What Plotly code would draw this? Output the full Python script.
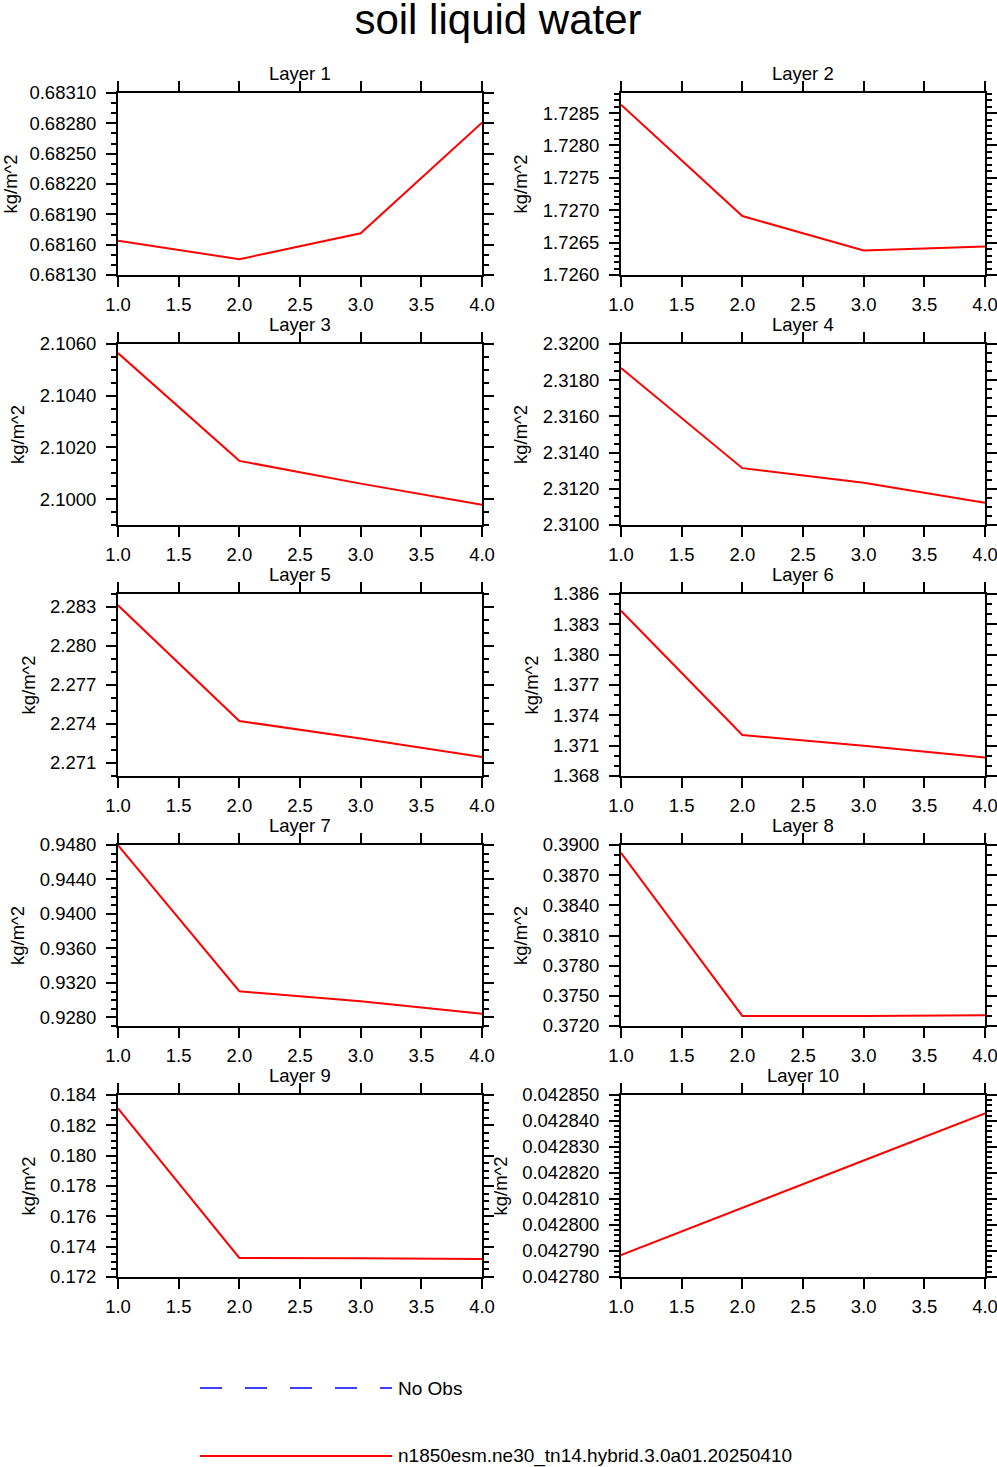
import plotly.graph_objects as go

# ---------------- data ----------------
x_vals = [1, 2, 3, 4]
layer_names = ["Layer 1", "Layer 2", "Layer 3", "Layer 4", "Layer 5",
               "Layer 6", "Layer 7", "Layer 8", "Layer 9", "Layer 10"]
layer1 = [0.681640, 0.681456, 0.681712, 0.682807]
layer2 = [1.72863, 1.72691, 1.72638, 1.72644]
layer3 = [2.10565, 2.10148, 2.10060, 2.09978]
layer4 = [2.31867, 2.31314, 2.31234, 2.31123]
layer5 = [2.28313, 2.27423, 2.27288, 2.27146]
layer6 = [1.38434, 1.37206, 1.37099, 1.36982]
layer7 = [0.94797, 0.93103, 0.92986, 0.92843]
layer8 = [0.38923, 0.37300, 0.37300, 0.37307]
layer9 = [0.18312, 0.17326, 0.17324, 0.17318]
layer10 = [0.0427884, 0.0428067, 0.0428248, 0.0428429]
series = [layer1, layer2, layer3, layer4, layer5,
          layer6, layer7, layer8, layer9, layer10]

x_tick_labels = ["1.0", "1.5", "2.0", "2.5", "3.0", "3.5", "4.0"]
x_tick_vals = [1.0, 1.5, 2.0, 2.5, 3.0, 3.5, 4.0]
y_title = "kg/m^2"
main_title = "soil liquid water"
legend_labels = ["No Obs", "n1850esm.ne30_tn14.hybrid.3.0a01.20250410"]

# y-axis settings
y_min = [0.68130, 1.7260, 2.0990, 2.3100, 2.2700, 1.368, 0.9270, 0.3720, 0.172, 0.042780]
y_max = [0.68310, 1.72881, 2.1060, 2.3200, 2.2840, 1.386, 0.9480, 0.3900, 0.184, 0.042850]
y_tick0 = [0.68130, 1.7260, 2.1000, 2.3100, 2.271, 1.368, 0.9280, 0.3720, 0.172, 0.042780]
y_dtick = [0.0003, 0.0005, 0.002, 0.002, 0.003, 0.003, 0.004, 0.003, 0.002, 0.00001]
y_minor = [0.0001, 0.0001, 0.0005, 0.0005, 0.001, 0.001, 0.001, 0.001, 0.0005, 0.000002]
y_fmt = [".5f", ".4f", ".4f", ".4f", ".3f", ".3f", ".4f", ".4f", ".3f", ".6f"]

# ---------------- layout geometry ----------------
W, H = 997, 1467
FONT = "Liberation Sans, Arial, Helvetica, sans-serif"
col_px = [(118, 482), (621, 985)]
row_px = [(93, 275), (344, 525), (594, 776), (845, 1026), (1095, 1277)]

def px_x(p):
    return p / W

def px_y(p):
    return 1 - p / H

fig = go.Figure()
annotations = []

for i, vals in enumerate(series):
    r, c = divmod(i, 2)
    n = i + 1
    xa = "xaxis" if n == 1 else f"xaxis{n}"
    ya = "yaxis" if n == 1 else f"yaxis{n}"
    xref = "x" if n == 1 else f"x{n}"
    yref = "y" if n == 1 else f"y{n}"

    fig.add_trace(go.Scatter(x=x_vals, y=vals, mode="lines",
                             line=dict(color="#ff0000", width=2),
                             xaxis=xref, yaxis=yref, showlegend=False))

    x0, x1 = col_px[c]
    t, b = row_px[r]
    eps_y = y_dtick[i] * 1e-4
    common = dict(showline=True, linecolor="black", linewidth=2, mirror="allticks",
                  ticks="outside", ticklen=10, tickwidth=2, tickcolor="black",
                  showgrid=False, zeroline=False, automargin=False,
                  ticklabeloverflow="allow",
                  tickfont=dict(family=FONT, size=18.5, color="black"))
    fig.layout[xa] = dict(domain=[px_x(x0), px_x(x1)], anchor=yref,
                          range=[1 - 1e-4, 4 + 1e-4], tickmode="array",
                          tickvals=x_tick_vals, ticktext=x_tick_labels,
                          ticklabelstandoff=2, **common)
    fig.layout[ya] = dict(domain=[px_y(b), px_y(t)], anchor=xref,
                          range=[y_min[i] - eps_y, y_max[i] + eps_y],
                          tick0=y_tick0[i], dtick=y_dtick[i], tickformat=y_fmt[i],
                          ticklabelstandoff=6,
                          minor=dict(tick0=y_tick0[i], dtick=y_minor[i], ticks="outside",
                                     ticklen=5, tickwidth=1.5, tickcolor="black",
                                     showgrid=False),
                          title=dict(text=y_title, standoff=10,
                                     font=dict(family=FONT, size=18.5, color="black")),
                          **common)
    annotations.append(dict(text=layer_names[i], xref="paper", yref="paper",
                            x=px_x((x0 + x1) / 2), y=px_y(t), xanchor="center",
                            yanchor="bottom", yshift=7, showarrow=False,
                            font=dict(family=FONT, size=18.5, color="black")))

# legend (drawn manually, NCL style)
leg_x0, leg_x1, leg_text_x = 200, 392, 396
leg_y = [1388, 1456]
shapes = [
    dict(type="line", xref="paper", yref="paper", x0=px_x(leg_x0), x1=px_x(leg_x1),
         y0=px_y(leg_y[0]), y1=px_y(leg_y[0]),
         line=dict(color="#0000ff", width=1.5, dash="22px,23px")),
    dict(type="line", xref="paper", yref="paper", x0=px_x(leg_x0), x1=px_x(leg_x1),
         y0=px_y(leg_y[1]), y1=px_y(leg_y[1]),
         line=dict(color="#ff0000", width=2)),
]
for lab, ly in zip(legend_labels, leg_y):
    annotations.append(dict(text=lab, xref="paper", yref="paper", x=px_x(leg_text_x),
                            y=px_y(ly), xanchor="left", yanchor="middle", showarrow=False,
                            font=dict(family=FONT, size=19, color="black")))

fig.update_layout(
    template="none",
    width=W, height=H,
    margin=dict(l=0, r=0, t=0, b=0, autoexpand=False),
    paper_bgcolor="white", plot_bgcolor="white",
    title=dict(text=main_title, x=px_x(498), xanchor="center", y=px_y(19), yanchor="middle",
               font=dict(family=FONT, size=42, color="black")),
    annotations=annotations, shapes=shapes, showlegend=False,
)

# remove the default 8px page margin so the figure fills the window exactly
fig.write_html("out.html",
               config={"displayModeBar": False},
               post_script="document.body.style.margin='0px';"
                           "document.body.style.overflow='hidden';")
